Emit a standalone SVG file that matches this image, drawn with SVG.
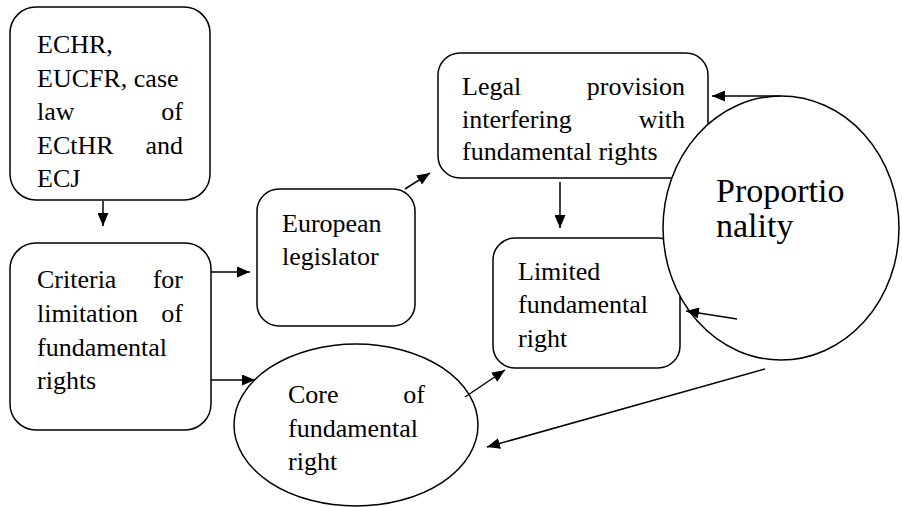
<svg xmlns="http://www.w3.org/2000/svg" width="902" height="507" viewBox="0 0 902 507">
<defs>
<marker id="ah" markerUnits="userSpaceOnUse" markerWidth="13" markerHeight="11" refX="13" refY="5.5" orient="auto">
<path d="M0,0 L13,5.5 L0,11 z" fill="#000"/>
</marker>
<style>
.box{fill:#fff;stroke:#000;stroke-width:1.5}
text{font-family:"Liberation Serif","Times New Roman","DejaVu Serif",serif;font-size:26px;fill:#000}
.big{font-size:34px}
.e{text-anchor:end}
.c line{stroke:#000;stroke-width:1.5;marker-end:url(#ah)}
</style>
</defs>
<rect width="902" height="507" fill="#fff"/>
<g id="sources">
<rect class="box" x="10" y="7" width="200" height="193" rx="26"/>
<text x="37" y="53">ECHR,</text>
<text x="37" y="87">EUCFR, case</text>
<text x="37" y="120">law</text><text class="e" x="183" y="120">of</text>
<text x="37" y="154">ECtHR</text><text class="e" x="183" y="154">and</text>
<text x="37" y="187">ECJ</text>
</g>
<g id="criteria">
<rect class="box" x="10" y="243" width="201" height="187" rx="26"/>
<text x="37" y="288">Criteria</text><text class="e" x="183" y="288">for</text>
<text x="37" y="322">limitation</text><text class="e" x="183" y="322">of</text>
<text x="37" y="356">fundamental</text>
<text x="37" y="389">rights</text>
</g>
<g id="legislator">
<rect class="box" x="257" y="189" width="158" height="137" rx="22"/>
<text x="282" y="232">European</text>
<text x="282" y="265">legislator</text>
</g>
<g id="core">
<ellipse class="box" cx="356" cy="425" rx="122" ry="81"/>
<text x="288" y="403">Core</text><text class="e" x="425" y="403">of</text>
<text x="288" y="437">fundamental</text>
<text x="288" y="470">right</text>
</g>
<g id="legal">
<rect class="box" x="438" y="53" width="270" height="125" rx="22"/>
<text x="462" y="95">Legal</text><text class="e" x="685" y="95">provision</text>
<text x="462" y="128">interfering</text><text class="e" x="685" y="128">with</text>
<text x="462" y="160">fundamental rights</text>
</g>
<g id="limited">
<rect class="box" x="493" y="238" width="187" height="130" rx="22"/>
<text x="518" y="280">Limited</text>
<text x="518" y="313">fundamental</text>
<text x="518" y="347">right</text>
</g>
<g id="proportionality">
<ellipse class="box" cx="781" cy="228" rx="118" ry="132"/>
<text class="big" x="716" y="202">Proportio</text>
<text class="big" x="716" y="237">nality</text>
</g>
<g id="connectors" class="c">
<line x1="103" y1="201" x2="103" y2="226"/>
<line x1="211" y1="272" x2="250" y2="272"/>
<line x1="211" y1="380" x2="255" y2="380"/>
<line x1="405" y1="189" x2="430" y2="173"/>
<line x1="560" y1="182" x2="560" y2="228"/>
<line x1="465" y1="397" x2="505" y2="370"/>
<line x1="780" y1="96" x2="712" y2="96"/>
<line x1="737" y1="319" x2="686" y2="311"/>
<line x1="765" y1="369" x2="487" y2="447"/>
</g>
</svg>
